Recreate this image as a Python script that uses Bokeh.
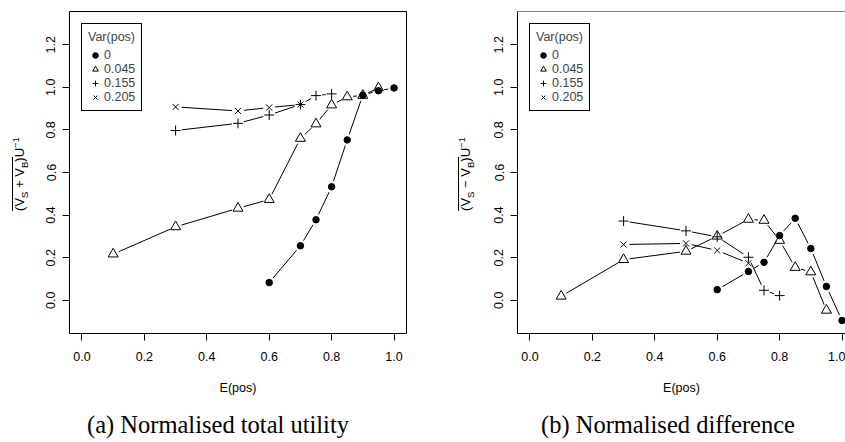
import math
from bokeh.plotting import figure
from bokeh.layouts import row, column
from bokeh.models import (Range1d, FixedTicker, Legend, LegendItem, Span, Div)
from bokeh.embed import file_html
from bokeh.resources import INLINE

# ---------------- data ----------------
var_labels = ["0", "0.045", "0.155", "0.205"]

x_v0 = [0.6, 0.7, 0.75, 0.8, 0.85, 0.9, 0.95, 1.0]
x_v045 = [0.1, 0.3, 0.5, 0.6, 0.7, 0.75, 0.8, 0.85, 0.9, 0.95]
x_v155 = [0.3, 0.5, 0.6, 0.7, 0.75, 0.8]
x_v205 = [0.3, 0.5, 0.6, 0.7]

tot_v0 = [0.083, 0.256, 0.378, 0.533, 0.753, 0.963, 0.984, 0.997]
tot_v045 = [0.217, 0.345, 0.432, 0.473, 0.760, 0.828, 0.917, 0.955, 0.962, 0.997]
tot_v155 = [0.797, 0.831, 0.870, 0.919, 0.961, 0.969]
tot_v205 = [0.908, 0.889, 0.905, 0.919]

dif_v0 = [0.050, 0.135, 0.178, 0.304, 0.385, 0.243, 0.065, -0.095]
dif_v045 = [0.019, 0.191, 0.230, 0.301, 0.380, 0.375, 0.281, 0.154, 0.133, -0.047]
dif_v155 = [0.372, 0.326, 0.298, 0.202, 0.047, 0.022]
dif_v205 = [0.262, 0.267, 0.234, 0.174]

x_ticks = [0.0, 0.2, 0.4, 0.6, 0.8, 1.0]
x_tick_labels = ["0.0", "0.2", "0.4", "0.6", "0.8", "1.0"]
y_ticks = [0.0, 0.2, 0.4, 0.6, 0.8, 1.0, 1.2]
y_tick_labels = ["0.0", "0.2", "0.4", "0.6", "0.8", "1.0", "1.2"]

captions = ["(a) Normalised total utility", "(b) Normalised difference"]
x_title = "E(pos)"
legend_title = "Var(pos)"
y_ops = ["+", "\u2212"]

# ---------------- styling ----------------
SANS = "Liberation Sans"
SERIF = "Liberation Serif"
markers = ["circle", "triangle", "cross", "x"]
msizes = [6.5, 10, 10, 8.5]

X0, X1 = -0.04, 1.04
Y0, Y1 = -0.156, 1.356
FW, FH = 337, 322
SX = FW / (X1 - X0)
SY = FH / (Y1 - Y0)
GAP = 6.0
FIG_H = 410
CAP_H = 32


def gapped(xs, ys):
    a, b, c, d = [], [], [], []
    for i in range(len(xs) - 1):
        dx = (xs[i + 1] - xs[i]) * SX
        dy = (ys[i + 1] - ys[i]) * SY
        L = math.hypot(dx, dy)
        if L <= 2 * GAP + 1:
            continue
        f = GAP / L
        a.append(xs[i] + (xs[i + 1] - xs[i]) * f)
        b.append(ys[i] + (ys[i + 1] - ys[i]) * f)
        c.append(xs[i + 1] - (xs[i + 1] - xs[i]) * f)
        d.append(ys[i + 1] - (ys[i + 1] - ys[i]) * f)
    return a, b, c, d


def make_panel(width, left_border, right_border, x_end, ys_list, boxed):
    p = figure(width=width, height=FIG_H,
               x_range=Range1d(X0, x_end), y_range=Range1d(Y0, Y1),
               min_border_left=left_border, min_border_right=right_border,
               min_border_top=11, min_border_bottom=FIG_H - 11 - FH,
               output_backend="svg", toolbar_location=None)
    p.xgrid.visible = False
    p.ygrid.visible = False
    p.background_fill_color = "white"
    p.border_fill_color = "white"
    if boxed:
        p.outline_line_color = "black"
        p.outline_line_width = 1
        p.outline_line_alpha = 1
    else:
        p.outline_line_color = None
        p.add_layout(Span(location=Y1, dimension="width",
                          line_color="black", line_width=1))

    for ax, ticks, labs in ((p.xaxis, x_ticks, x_tick_labels),
                            (p.yaxis, y_ticks, y_tick_labels)):
        ax.ticker = FixedTicker(ticks=ticks)
        ax.major_label_overrides = {t: l for t, l in zip(ticks, labs)}
        ax.minor_tick_line_color = None
        ax.major_tick_out = 7
        ax.major_tick_in = 0
        ax.major_tick_line_color = "black"
        ax.major_label_text_font = SANS
        ax.major_label_text_font_size = "12.5px"
        ax.major_label_text_color = "black"
        ax.axis_line_color = None if boxed else "black"
    p.yaxis.major_label_standoff = 7
    p.xaxis.major_label_standoff = 11
    p.yaxis.major_label_orientation = "vertical"
    p.xaxis.axis_label = x_title
    p.xaxis.axis_label_text_font = SANS
    p.xaxis.axis_label_text_font_style = "normal"
    p.xaxis.axis_label_text_font_size = "12.5px"
    p.xaxis.axis_label_text_color = "black"
    p.xaxis.axis_label_standoff = 17

    xs_list = [x_v0, x_v045, x_v155, x_v205]
    items = []
    for xs, ys, mk, ms, lab in zip(xs_list, ys_list, markers, msizes, var_labels):
        a, b, c, d = gapped(xs, ys)
        p.segment(a, b, c, d, line_color="black", line_width=1)
        if mk == "circle":
            r = p.scatter(xs, ys, marker=mk, size=ms, fill_color="black",
                          line_color="black", line_width=1)
        else:
            r = p.scatter(xs, ys, marker=mk, size=ms, fill_color=None,
                          line_color="black", line_width=1)
        items.append(LegendItem(label=lab, renderers=[r]))

    leg = Legend(items=items, location="top_left", title=legend_title,
                 border_line_color="black", border_line_width=1,
                 border_line_alpha=1,
                 background_fill_color="white", background_fill_alpha=1,
                 label_text_font=SANS, label_text_font_size="12.5px",
                 title_text_font=SANS, title_text_font_size="12.5px",
                 title_text_font_style="normal",
                 glyph_width=14, glyph_height=14, label_height=14,
                 spacing=0, padding=6, margin=12, label_standoff=2,
                 title_standoff=4)
    p.add_layout(leg)
    return p


def ylabel_div(width, cx, cy, op):
    sub = 'style="font-size:9.5px;line-height:0;"'
    html = (
        f'<div style="position:relative;width:{width}px;height:{FIG_H}px;">'
        f'<div style="position:absolute;left:{cx}px;top:{cy}px;'
        f'transform:translate(-50%,-50%) rotate(-90deg);white-space:nowrap;'
        f"font-family:'{SANS}';font-size:13px;line-height:16px;color:#000;\">"
        f'<span style="display:inline-block;border-top:1px solid #000;'
        f'line-height:13px;padding-top:0px;">(V<sub {sub}>S</sub>'
        f' {op} V<sub {sub}>B</sub>)</span>'
        f'U<sup {sub}>\u22121</sup></div></div>'
    )
    return Div(text=html, width=width, height=FIG_H, margin=0)


def caption_div(width, cx, text):
    html = (
        f'<div style="position:relative;width:{width}px;height:{CAP_H}px;">'
        f'<div style="position:absolute;left:{cx}px;top:3px;'
        f'transform:translateX(-50%);white-space:nowrap;'
        f"font-family:'{SERIF}';font-size:24.5px;line-height:24.5px;color:#000;\">"
        f'{text}</div></div>'
    )
    return Div(text=html, width=width, height=CAP_H, margin=0)


p1 = make_panel(390, 39, 14, X1, [tot_v0, tot_v045, tot_v155, tot_v205], True)
p2 = make_panel(365, 37, 0, X0 + 328 / SX,
                [dif_v0, dif_v045, dif_v155, dif_v205], False)

yl1 = ylabel_div(30, 20, 174, y_ops[0])
yl2 = ylabel_div(60, 46, 174, y_ops[1])

cap1 = caption_div(420, 218, captions[0])
cap2 = caption_div(425, 668 - 420, captions[1])

layout = column(row(yl1, p1, yl2, p2, spacing=0),
                row(cap1, cap2, spacing=0), spacing=0)
open("out.html", "w").write(file_html(layout, INLINE))
